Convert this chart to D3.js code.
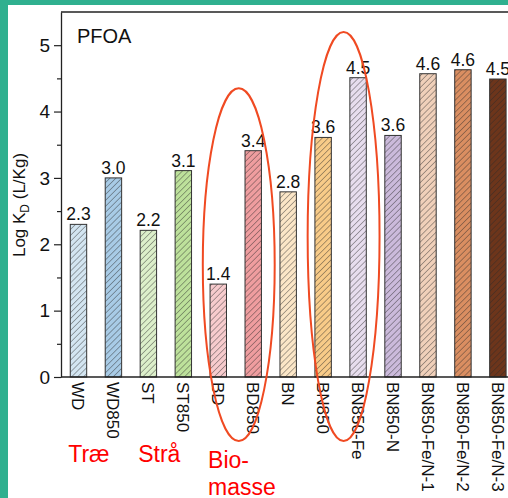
<!DOCTYPE html>
<html>
<head>
<meta charset="utf-8">
<script src="https://cdn.jsdelivr.net/npm/d3@7"></script>
<style>
	body { margin: 0; background: #2fb08f; }
	svg { display: block; }
	text { font-family: "Liberation Sans", Arial, sans-serif; }
</style>
</head>
<body>
<div id="chart"></div>
<script>

///////////////////////////////////////////////////////////////////////////
///////////////////////////////// Data ////////////////////////////////////
///////////////////////////////////////////////////////////////////////////

var samples = ["WD", "WD850", "ST", "ST850", "BD", "BD850", "BN", "BN850",
			   "BN850-Fe", "BN850-N", "BN850-Fe/N-1", "BN850-Fe/N-2", "BN850-Fe/N-3"];
var logKd = [2.30, 3.00, 2.21, 3.11, 1.40, 3.41, 2.79, 3.61, 4.51, 3.64, 4.57, 4.63, 4.49];
var barColors = ["#d3e5f1", "#a8cbe6", "#dcefca", "#bde19b", "#f7cbcd", "#ef9d9f", "#fbe6c7",
				 "#f8cb88", "#e7ddee", "#cbbadb", "#f0d0ba", "#da8e61", "#6d351b"];
var yTicks = [0, 1, 2, 3, 4, 5];
var yMinor = [0.5, 1.5, 2.5, 3.5, 4.5];

//Hand drawn groups (red text + ellipses)
var groupLabels = [
	{ first: "WD", lines: ["Træ"] },
	{ first: "ST", lines: ["Strå"] },
	{ first: "BD", lines: ["Bio-", "masse"] }
];
var circled = [
	{ from: "BD", to: "BD850", top: 4.35 },
	{ from: "BN850", to: "BN850-Fe", top: 5.2 }
];

///////////////////////////////////////////////////////////////////////////
//////////////////// Set up and initiate svg containers ///////////////////
///////////////////////////////////////////////////////////////////////////

var W = 508, H = 498;
var margin = { top: 12, left: 61, bottom: 121 };
var height = H - margin.top - margin.bottom;

var svg = d3.select("#chart").append("svg")
	.attr("width", W)
	.attr("height", H);

//White card on the teal background
svg.append("rect")
	.attr("x", 8).attr("y", 5)
	.attr("width", W - 8).attr("height", H - 5)
	.style("fill", "#ffffff");

var x = d3.scaleBand()
	.domain(samples)
	.range([margin.left, margin.left + samples.length * 34.95])
	.paddingInner(0.53)
	.paddingOuter(0.265);

var y = d3.scaleLinear()
	.domain([0, 5.5])
	.range([margin.top + height, margin.top]);

///////////////////////////////////////////////////////////////////////////
///////////////////////////// Hatch pattern ///////////////////////////////
///////////////////////////////////////////////////////////////////////////

var defs = svg.append("defs");
var hatch = defs.append("pattern")
	.attr("id", "hatch")
	.attr("patternUnits", "userSpaceOnUse")
	.attr("width", 4.2).attr("height", 4.2)
	.attr("patternTransform", "rotate(-45)");
hatch.append("line")
	.attr("x1", 0).attr("y1", 2.1)
	.attr("x2", 4.2).attr("y2", 2.1)
	.style("stroke", "#2a2a2a")
	.style("stroke-opacity", 0.55)
	.style("stroke-width", 0.7);

///////////////////////////////////////////////////////////////////////////
///////////////////////////////// Bars ////////////////////////////////////
///////////////////////////////////////////////////////////////////////////

var bars = svg.append("g").selectAll(".bar")
	.data(samples)
	.enter().append("g")
	.attr("class", "bar");

bars.append("rect")
	.attr("x", function(d) { return x(d); })
	.attr("y", function(d,i) { return y(logKd[i]); })
	.attr("width", x.bandwidth())
	.attr("height", function(d,i) { return y(0) - y(logKd[i]); })
	.style("fill", function(d,i) { return barColors[i]; });

bars.append("rect")
	.attr("x", function(d) { return x(d); })
	.attr("y", function(d,i) { return y(logKd[i]); })
	.attr("width", x.bandwidth())
	.attr("height", function(d,i) { return y(0) - y(logKd[i]); })
	.style("fill", "url(#hatch)")
	.style("stroke", "#333")
	.style("stroke-width", 1);

//Value labels
bars.append("text")
	.attr("x", function(d) { return x(d) + x.bandwidth()/2; })
	.attr("y", function(d,i) { return y(logKd[i]) - 4; })
	.attr("text-anchor", "middle")
	.style("font-size", "17.5px")
	.style("fill", "#111")
	.text(function(d,i) { return d3.format(".1f")(logKd[i]); });

///////////////////////////////////////////////////////////////////////////
///////////////////////////////// Axes ////////////////////////////////////
///////////////////////////////////////////////////////////////////////////

//Frame top line
svg.append("line")
	.attr("x1", margin.left).attr("x2", W)
	.attr("y1", margin.top).attr("y2", margin.top)
	.style("stroke", "#222").style("stroke-width", 1.3);

var yAxis = svg.append("g")
	.attr("transform", "translate(" + margin.left + ",0)")
	.call(d3.axisLeft(y).tickValues(yTicks).tickFormat(d3.format("d"))
		.tickSize(7).tickPadding(4).tickSizeOuter(0));
yAxis.select(".domain").style("stroke", "#222").style("stroke-width", 1.3);
yAxis.selectAll(".tick line").style("stroke", "#222").style("stroke-width", 1.2);
yAxis.selectAll(".tick text")
	.style("font-size", "19px")
	.style("font-family", "'Liberation Sans', Arial, sans-serif")
	.style("fill", "#111");

svg.append("g")
	.attr("transform", "translate(" + margin.left + ",0)")
	.call(d3.axisLeft(y).tickValues(yMinor).tickSize(4).tickFormat(""))
	.call(function(g) { g.select(".domain").remove(); })
	.selectAll(".tick line").style("stroke", "#222").style("stroke-width", 1.2);

var xAxis = svg.append("g")
	.attr("transform", "translate(0," + y(0) + ")")
	.call(d3.axisBottom(x).tickSize(0).tickSizeOuter(0));
xAxis.select(".domain")
	.attr("d", "M" + margin.left + ",0H" + W)
	.style("stroke", "#222").style("stroke-width", 1.3);
xAxis.selectAll(".tick text")
	.attr("transform", "rotate(90)")
	.attr("x", 5)
	.attr("y", 0)
	.attr("dy", "0.36em")
	.attr("text-anchor", "start")
	.style("font-size", "17px")
	.style("font-family", "'Liberation Sans', Arial, sans-serif")
	.style("fill", "#111");

//Y axis title
var yTitle = svg.append("text")
	.attr("transform", "translate(25," + 205 + ") rotate(-90)")
	.attr("text-anchor", "middle")
	.style("font-size", "17px")
	.style("fill", "#111");
yTitle.append("tspan").text("Log K");
yTitle.append("tspan").attr("dy", 4).style("font-size", "12px").text("D");
yTitle.append("tspan").attr("dy", -4).text(" (L/Kg)");

//Panel title
svg.append("text")
	.attr("x", 77).attr("y", 43)
	.style("font-size", "20px")
	.style("fill", "#111")
	.text("PFOA");

///////////////////////////////////////////////////////////////////////////
/////////////////////////// Red annotations ///////////////////////////////
///////////////////////////////////////////////////////////////////////////

svg.selectAll(".circled")
	.data(circled)
	.enter().append("ellipse")
	.attr("class", "circled")
	.attr("cx", function(d) { return (x(d.from) + x(d.to) + x.bandwidth())/2 + 3; })
	.attr("cy", function(d) { return (y(d.top) + 441)/2; })
	.attr("rx", function(d) { return (x(d.to) - x(d.from)) + 1; })
	.attr("ry", function(d) { return (441 - y(d.top))/2; })
	.style("fill", "none")
	.style("stroke", "#f04a22")
	.style("stroke-width", 2);

var gl = svg.selectAll(".group-label")
	.data(groupLabels)
	.enter().append("text")
	.attr("class", "group-label")
	.attr("x", function(d) { return x(d.first) - 2; })
	.attr("y", 462)
	.style("font-size", "23px")
	.style("fill", "#ff0000");
gl.selectAll("tspan")
	.data(function(d) { return d.lines.map(function(l) { return { text: l, x: x(d.first) - 2 }; }); })
	.enter().append("tspan")
	.attr("x", function(d) { return d.x; })
	.attr("dy", function(d,i) { return i === 0 ? (d.text === "Bio-" ? 6 : 0) : 27; })
	.text(function(d) { return d.text; });

</script>
</body>
</html>
